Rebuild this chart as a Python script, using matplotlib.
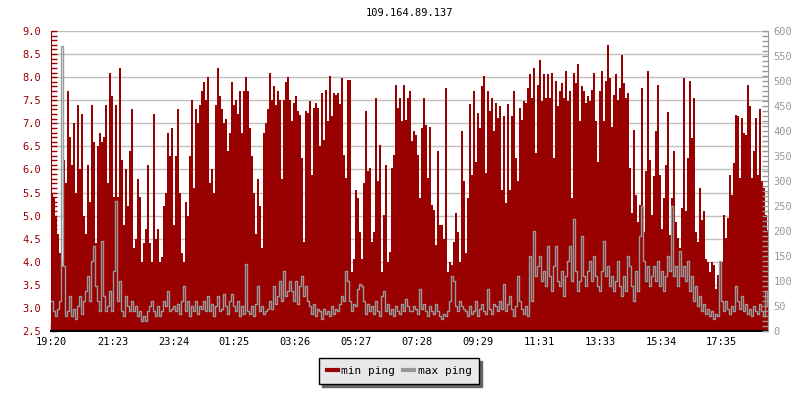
import matplotlib
matplotlib.use("Agg")
import matplotlib.pyplot as plt
import numpy as np
from matplotlib.lines import Line2D
from matplotlib.ticker import MultipleLocator, FormatStrFormatter

title = "109.164.89.137"
tick_times = ["19:20", "21:23", "23:24", "01:25", "03:26", "05:27",
              "07:28", "09:29", "11:31", "13:33", "15:34", "17:35"]

# min ping (ms, left axis), one sample every ~4 min starting 19:20
min_ping = [
    5.5, 5.4, 5.0, 4.6, 4.2, 3.9, 6.2, 5.7, 7.7, 6.7, 6.1, 7.0, 5.5, 7.4, 6.0, 7.2, 5.0, 4.6, 6.1, 5.3,
    7.4, 6.6, 4.4, 6.5, 6.8, 6.6, 6.7, 7.4, 5.7, 8.1, 7.6, 5.4, 7.4, 5.4, 8.2, 6.2, 4.8, 6.0, 5.2, 6.4,
    7.3, 4.3, 4.5, 5.8, 5.4, 4.0, 4.4, 4.7, 6.1, 4.4, 4.0, 7.2, 4.5, 4.7, 4.0, 4.1, 5.2, 5.5, 6.8, 6.3,
    6.9, 4.8, 6.3, 7.3, 5.5, 4.2, 4.0, 5.3, 5.0, 6.3, 7.5, 5.6, 7.3, 7.0, 7.4, 7.7, 7.9, 7.5, 8.0, 5.7,
    6.0, 5.5, 7.4, 8.2, 7.6, 7.3, 7.0, 7.1, 6.4, 6.8, 7.9, 7.4, 7.5, 7.2, 7.7, 6.8, 7.7, 8.0, 7.7, 6.9,
    6.3, 5.5, 4.6, 5.8, 5.2, 4.3, 6.8, 7.0, 7.3, 8.1, 7.5, 7.8, 7.4, 7.7, 7.5, 5.8, 7.5, 7.9, 8.0, 7.5,
    7.04, 7.44, 7.59, 7.26, 7.19, 6.25, 4.43, 7.26, 7.22, 7.48, 5.88, 7.33, 7.44, 7.33, 6.5, 7.66, 6.64, 7.73, 7.04, 8.02,
    7.15, 7.66, 7.62, 7.66, 7.41, 7.99, 6.32, 5.81, 7.93, 7.93, 3.78, 4.07, 5.56, 5.38, 4.65, 4.07, 5.70, 7.26, 5.96, 6.03,
    4.43, 4.65, 7.55, 5.74, 6.54, 3.78, 5.01, 6.10, 4.0, 4.22, 6.03, 6.32, 7.84, 7.33, 7.55, 7.04, 7.84, 7.08, 7.55, 7.70,
    6.61, 6.83, 6.75, 6.32, 5.38, 6.9, 7.55, 6.97, 5.81, 6.93, 5.23, 5.12, 4.36, 6.39, 4.8, 4.8, 4.5, 7.77, 3.78, 4.0,
    3.93, 4.43, 5.05, 4.65, 4.0, 6.83, 5.74, 4.18, 5.38, 7.41, 5.88, 7.70, 6.17, 7.22, 6.9, 7.8, 8.02, 5.92, 7.70, 7.26,
    7.55, 6.83, 7.44, 7.12, 7.37, 5.56, 7.15, 5.27, 7.41, 5.56, 7.15, 7.7, 6.25, 5.74, 7.33, 7.08, 7.48, 7.44, 7.77, 8.06,
    7.55, 8.2, 6.36, 7.84, 8.37, 7.48, 8.06, 7.55, 8.06, 7.55, 8.09, 6.25, 7.91, 7.37, 7.7, 7.88, 7.55, 8.13, 7.48, 7.7,
    5.38, 8.09, 7.88, 8.28, 7.04, 7.8, 7.7, 7.44, 7.59, 7.48, 7.73, 8.09, 7.04, 6.17, 7.7, 8.13, 7.04, 7.91, 8.7, 7.99,
    6.93, 7.62, 8.06, 7.51, 7.77, 8.49, 7.88, 7.55, 7.66, 6.03, 5.05, 6.86, 5.45, 4.87, 5.23, 7.77, 4.65, 5.96, 8.13, 6.21,
    5.01, 5.85, 6.83, 7.83, 5.88, 4.72, 5.38, 6.1, 7.24, 4.58, 5.38, 6.39, 4.87, 4.51, 4.29, 5.16, 7.99, 5.09, 6.25, 7.91,
    6.68, 7.55, 4.65, 4.43, 5.59, 4.91, 5.09, 4.07, 4.0, 3.78, 4.0, 3.93, 3.42, 3.71, 4.0, 4.0, 5.01, 4.51, 4.94, 5.88,
    5.45, 6.14, 7.19, 7.15, 5.81, 7.12, 6.79, 6.75, 7.84, 7.37, 5.81, 6.39, 7.12, 5.88, 7.3, 5.74, 5.59, 5.01, 4.69, 6.14,
]

# max ping (ms, right axis)
max_ping = [
    60, 40, 30, 45, 60, 570, 130, 30, 40, 70, 30, 45, 25, 50, 70, 35, 60, 80, 110, 60,
    140, 170, 90, 60, 40, 180, 70, 40, 50, 80, 40, 120, 260, 60, 100, 40, 30, 70, 50, 40,
    60, 40, 50, 30, 40, 20, 30, 20, 40, 50, 60, 40, 30, 50, 30, 40, 60, 50, 80, 40,
    45, 50, 40, 55, 35, 60, 90, 40, 60, 30, 50, 40, 60, 35, 50, 45, 60, 40, 70, 40,
    55, 30, 50, 70, 40, 45, 75, 50, 35, 60, 75, 50, 40, 60, 30, 50, 35, 135, 40, 35,
    50, 30, 55, 90, 40, 50, 35, 40, 45, 60, 45, 90, 55, 70, 100, 60, 120, 70, 80, 100,
    80, 60, 100, 55, 90, 110, 70, 90, 60, 50, 35, 55, 30, 45, 40, 25, 45, 35, 40, 30,
    50, 35, 45, 40, 55, 70, 60, 120, 100, 60, 40, 55, 50, 85, 95, 90, 60, 35, 55, 40,
    50, 35, 60, 40, 30, 70, 80, 40, 55, 35, 45, 30, 50, 40, 35, 55, 40, 65, 50, 40,
    40, 50, 45, 35, 85, 45, 55, 40, 30, 50, 40, 35, 55, 40, 30, 25, 35, 30, 40, 60,
    110, 100, 50, 40, 60, 50, 45, 40, 30, 50, 35, 40, 60, 30, 45, 55, 40, 35, 85, 45,
    35, 55, 50, 40, 60, 45, 95, 40, 55, 70, 45, 30, 50, 110, 60, 45, 35, 50, 30, 150,
    60, 200, 110, 130, 150, 100, 120, 90, 170, 110, 80, 130, 170, 100, 90, 120, 70, 110, 140, 170,
    100, 225, 120, 80, 100, 190, 110, 90, 120, 140, 100, 150, 110, 90, 80, 120, 180, 110, 130, 90,
    110, 80, 100, 140, 90, 70, 110, 80, 150, 130, 90, 60, 120, 80, 190, 250, 140, 100, 130, 90,
    110, 130, 100, 140, 90, 120, 80, 110, 150, 120, 250, 110, 130, 90, 160, 110, 130, 100, 140, 80,
    110, 60, 90, 50, 70, 40, 55, 35, 45, 30, 40, 25, 35, 30, 140, 60, 40, 60, 45, 35,
    50, 40, 90, 60, 45, 70, 40, 55, 35, 45, 30, 50, 40, 35, 55, 40, 30, 80, 50, 60,
]

RED = "#990000"
GRAY = "#999999"
step = 3.98        # minutes per sample
span = 1427        # minutes shown

plt.rcParams["font.family"] = ["DejaVu Sans Mono"]
plt.rcParams["font.size"] = 7.5

def minutes_from_start(s, start="19:20"):
    h, m = map(int, s.split(":"))
    h0, m0 = map(int, start.split(":"))
    return ((h * 60 + m) - (h0 * 60 + m0)) % 1440

fig = plt.figure(figsize=(8, 4), dpi=100)
ax = fig.add_axes([51 / 800, 69 / 400, 717 / 800, 300 / 400])
twin = ax.twinx()

t_min = np.arange(len(min_ping)) * step
t_max = np.arange(len(max_ping)) * step

ax.bar(t_min, min_ping, width=step, align="edge", color=RED, linewidth=0)
twin.plot(t_max, max_ping, color=GRAY, lw=1, drawstyle="steps-post")

ax.set_xlim(0, span)
ax.set_ylim(2.5, 9.0)
twin.set_ylim(0, 600)

ax.set_axisbelow(True)
ax.grid(axis="y", color="#c0c0c0", lw=1)
ax.yaxis.set_major_locator(MultipleLocator(0.5))
ax.yaxis.set_minor_locator(MultipleLocator(0.1))
ax.yaxis.set_major_formatter(FormatStrFormatter("%.1f"))
twin.yaxis.set_major_locator(MultipleLocator(50))
twin.yaxis.set_minor_locator(MultipleLocator(10))

ax.set_xticks([minutes_from_start(s) for s in tick_times])
ax.set_xticklabels(tick_times)

ax.tick_params(axis="y", which="both", direction="in", colors=RED, length=4, width=1, pad=7)
ax.tick_params(axis="y", labelcolor=RED)
ax.tick_params(axis="x", direction="in", length=5, width=1, pad=4, colors="black")
twin.tick_params(axis="y", which="both", direction="in", colors=GRAY, length=4, width=1, pad=4)

for name in ["top", "right"]:
    ax.spines[name].set_visible(False)
ax.spines["left"].set_color(RED)
ax.spines["bottom"].set_color("black")
ax.spines["bottom"].set_linewidth(1.5)
twin.spines["top"].set_visible(False)
twin.spines["left"].set_visible(False)
twin.spines["bottom"].set_visible(False)
twin.spines["right"].set_color(GRAY)

ax.set_title(title, pad=11, fontsize=7.5)

handles = [Line2D([], [], color=RED, lw=3), Line2D([], [], color=GRAY, lw=3)]
leg = fig.legend(handles, ["min ping", "max ping"], loc="center",
                 bbox_to_anchor=(0.499, 0.0725), ncol=2, frameon=True,
                 fancybox=False, shadow={"color": "#666666", "alpha": 1},
                 handlelength=1.0, handletextpad=0.3, columnspacing=0.7,
                 borderpad=0.7, fontsize=8)
leg.get_frame().set_facecolor("#e8e8e8")
leg.get_frame().set_edgecolor("black")
leg.get_frame().set_alpha(1)
leg.get_frame().set_linewidth(1)

fig.savefig("out.png", dpi=100)
